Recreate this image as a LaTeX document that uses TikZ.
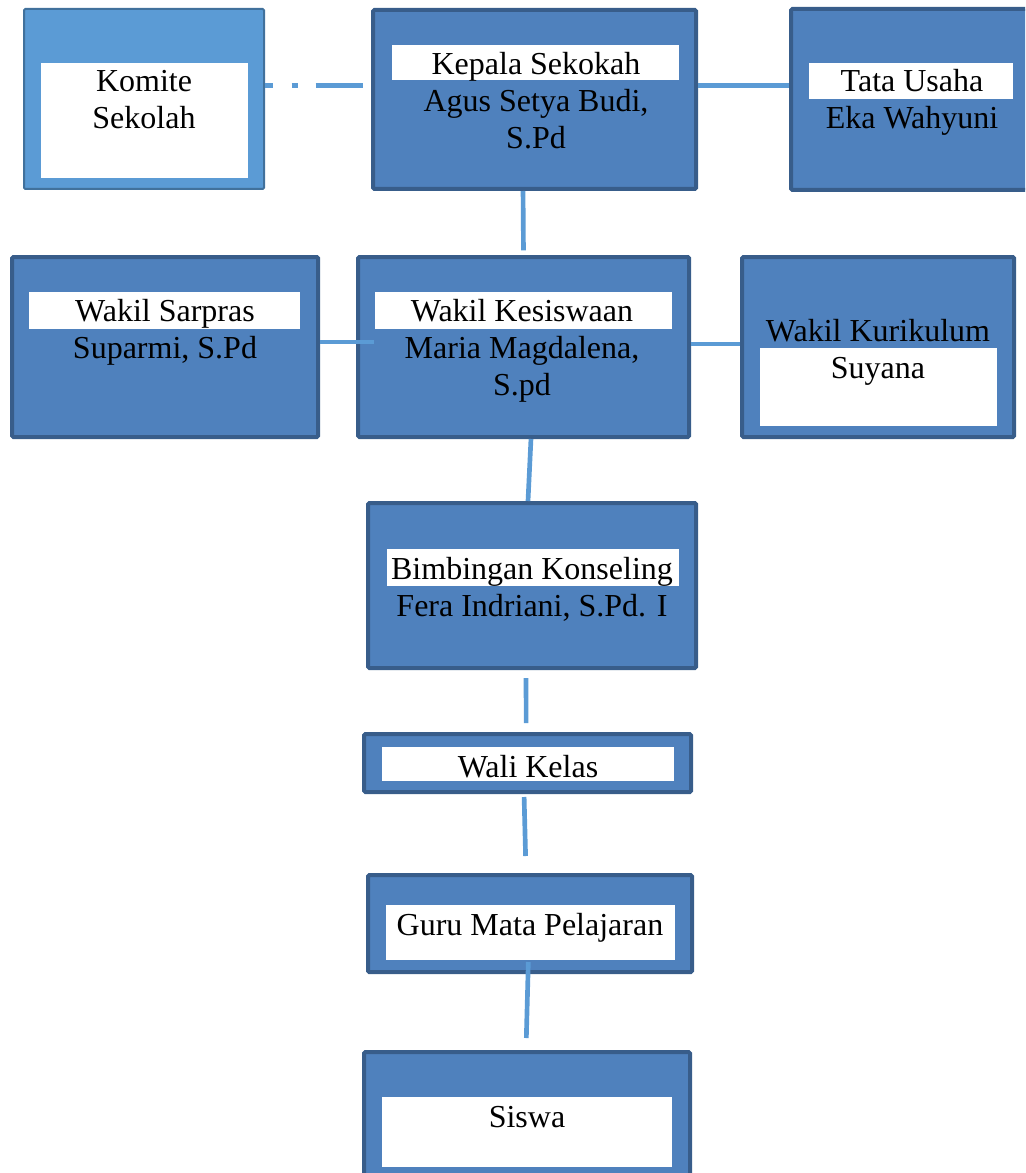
\documentclass[tikz,border=0pt]{standalone}
\usepackage{fontspec}
\setmainfont{Liberation Serif}
\usetikzlibrary{fit}
\definecolor{kotakbiru}{HTML}{4F81BD}
\definecolor{tepibiru}{HTML}{385D8A}
\definecolor{birumuda}{HTML}{5B9BD5}
\definecolor{tepimuda}{HTML}{41719C}

\begin{document}
\begin{tikzpicture}[x=0.75pt,y=-0.75pt,
    jabatan/.style={draw=tepibiru,fill=kotakbiru,line width=3pt,rounded corners=1pt,inner sep=0pt},
    putih/.style={fill=white,inner sep=0pt},
    teks/.style={font=\fontsize{24}{27.75}\selectfont,align=center,anchor=base,inner sep=0pt},
    garis/.style={draw=birumuda,line width=3.5pt}]
    \useasboundingbox (0,0) rectangle (1025,1173);
    \clip (0,0) rectangle (1025,1173);

    % kotak jabatan
    \node[jabatan,fill=birumuda,draw=tepimuda,line width=1.5pt,fit={(24,9) (264,189)}] (komite) {};
    \node[jabatan,fit={(373,10) (696,189)}] (kepala) {};
    \node[jabatan,fit={(791,9) (1040,190)}] (tata) {};
    \node[jabatan,fit={(12,257) (318,437)}] (sarpras) {};
    \node[jabatan,fit={(358,257) (689,437)}] (kesiswaan) {};
    \node[jabatan,fit={(742,257) (1014,437)}] (kurikulum) {};
    \node[jabatan,fit={(368,503) (696,668)}] (bk) {};
    \node[jabatan,fit={(364,734) (691,792)}] (wali) {};
    \node[jabatan,fit={(368,875) (692,972)}] (guru) {};
    \node[jabatan,fit={(364,1052) (690,1190)}] (siswa) {};

    % garis penghubung
    \coordinate (baris1) at (0,85.5);
    \draw[garis,dash pattern=on 6pt off 14pt on 4.5pt off 13.5pt on 40pt]
        (komite.east |- baris1) -- ([xshift=-6pt]kepala.west |- baris1);
    \draw[garis] (kepala.east |- baris1) -- (tata.west |- baris1);
    \draw[garis,shorten >=3.5pt] ([xshift=-8.6pt]kepala.south) -- (kesiswaan.north);
    \draw[garis] ([yshift=3.75pt]sarpras.east) -- ([yshift=3.75pt,xshift=13.5pt]kesiswaan.west);
    \draw[garis] ([yshift=2.25pt]kesiswaan.east) -- ([yshift=2.25pt]kurikulum.west);
    \draw[garis] ([xshift=5.6pt]kesiswaan.south) -- ([xshift=-3pt]bk.north);
    \draw[garis,shorten <=6pt,shorten >=6.75pt] ([xshift=-4.5pt]bk.south) -- ([xshift=-1pt]wali.north);
    \draw[garis,shorten <=2.25pt,shorten >=12.75pt] ([xshift=-2.6pt]wali.south) -- ([xshift=-3pt]guru.north);
    \draw[garis,shorten <=-9pt,shorten >=9pt] ([xshift=-1.5pt]guru.south) -- ([xshift=-0.75pt]siswa.north);

    % kotak putih untuk nama jabatan
    \node[putih,fit={(41,63) (248,178)}] (komite-p) {};
    \node[putih,fit={(392,45) (679,80)}] (kepala-p) {};
    \node[putih,fit={(809,63) (1013,99)}] (tata-p) {};
    \node[putih,fit={(29,292) (300,329)}] (sarpras-p) {};
    \node[putih,fit={(375,292) (672,329)}] (kesiswaan-p) {};
    \node[putih,fit={(760,348) (997,426)}] (kurikulum-p) {};
    \node[putih,fit={(387,549) (679,586)}] (bk-p) {};
    \node[putih,fit={(382,747) (674,781)}] (wali-p) {};
    \node[putih,fit={(386,905) (675,960)}] (guru-p) {};
    \node[putih,fit={(382,1097) (672,1167)}] (siswa-p) {};

    % teks (titik = garis dasar baris terakhir)
    \node[teks] (komite-t) at (144,129) {Komite\\Sekolah};
    \node[teks] (kepala-t) at (536,148.5) {Kepala Sekokah\\Agus Setya Budi,\\S.Pd};
    \node[teks] (tata-t) at (912,129) {Tata Usaha\\Eka Wahyuni};
    \node[teks] (sarpras-t) at (165,358.5) {Wakil Sarpras\\Suparmi, S.Pd};
    \node[teks] (kesiswaan-t) at (522,395.5) {Wakil Kesiswaan\\Maria Magdalena,\\S.pd};
    \node[teks] (kurikulum-t) at (878,378.5) {Wakil Kurikulum\\Suyana};
    \node[teks] (bk-t) at (532,616.5) {Bimbingan Konseling\\Fera Indriani, S.Pd. I};
    \node[teks] (wali-t) at (528,777) {Wali Kelas};
    \node[teks] (guru-t) at (530,935.5) {Guru Mata Pelajaran};
    \node[teks] (siswa-t) at (527,1127.5) {Siswa};
\end{tikzpicture}
\end{document}
